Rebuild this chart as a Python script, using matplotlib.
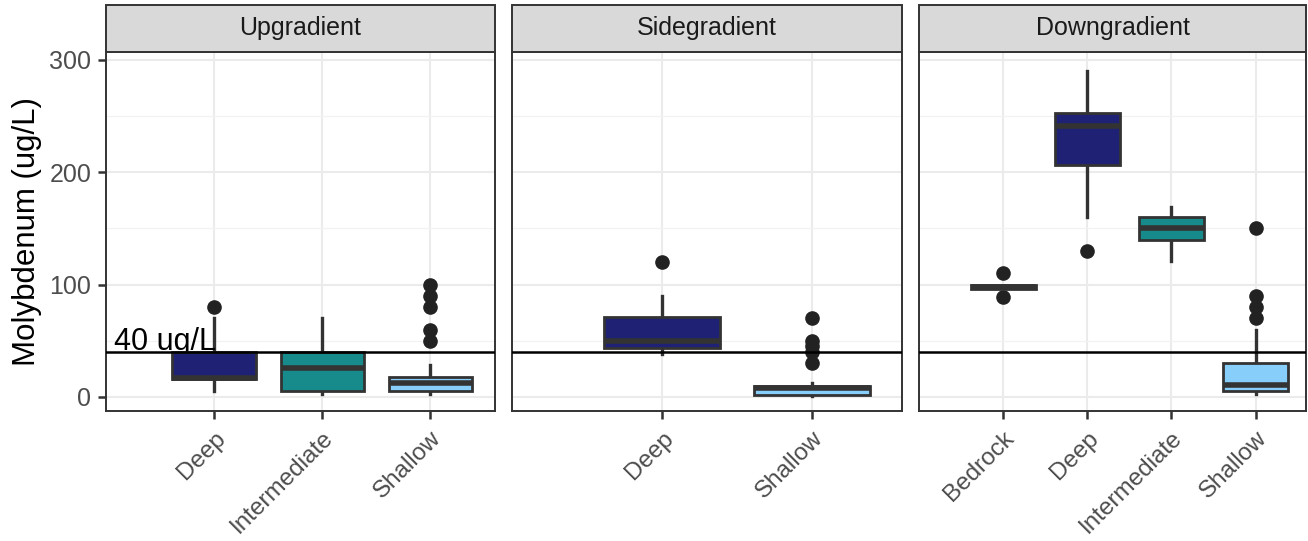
import matplotlib
matplotlib.use("Agg")
import matplotlib.pyplot as plt
from matplotlib.patches import Rectangle
import numpy as np

plt.rcParams['font.family'] = ['Liberation Sans', 'DejaVu Sans']

# ---------------- data ----------------
panels = ["Upgradient", "Sidegradient", "Downgradient"]

up_cats = ["Deep", "Intermediate", "Shallow"]
up_q1 = [16, 5, 5]
up_med = [16.5, 26, 12]
up_q3 = [40, 40, 18]
up_lo = [5, 3, 3]
up_hi = [70, 70, 28]
up_out = [[80], [], [50, 60, 80, 90, 100]]

side_cats = ["Deep", "Shallow"]
side_q1 = [44, 2]
side_med = [50, 8]
side_q3 = [71, 10]
side_lo = [38, 1]
side_hi = [90, 12]
side_out = [[120], [30, 40, 45, 50, 70]]

down_cats = ["Bedrock", "Deep", "Intermediate", "Shallow"]
down_q1 = [96, 206, 140, 5]
down_med = [98, 241, 150, 11]
down_q3 = [100, 253, 160, 30]
down_lo = [96, 160, 121, 3]
down_hi = [100, 290, 169, 60]
down_out = [[89, 110], [130], [], [70, 80, 90, 150]]

threshold = 40
threshold_label = "40 ug/L"
y_label = "Molybdenum (ug/L)"
y_ticks = [0, 100, 200, 300]
y_minor = [50, 150, 250]

fill_colors = {"Bedrock": "#2a2a2a", "Deep": "#1f2174",
               "Intermediate": "#178b8b", "Shallow": "#87cefa"}

panel_data = [
    (up_cats, up_q1, up_med, up_q3, up_lo, up_hi, up_out),
    (side_cats, side_q1, side_med, side_q3, side_lo, side_hi, side_out),
    (down_cats, down_q1, down_med, down_q3, down_lo, down_hi, down_out),
]

# ---------------- layout ----------------
W, H = 1308, 541
fig = plt.figure(figsize=(W / 100, H / 100), dpi=100)
fig.patch.set_facecolor("white")

panel_px = [(106, 495), (512, 902), (919, 1306)]
top_px, bot_px = 52, 411
strip_h_px = 47

edge = "#333333"
for i, (name, pdata) in enumerate(zip(panels, panel_data)):
    cats, q1, med, q3, lo, hi, out = pdata
    l, r = panel_px[i]
    ax = fig.add_axes([l / W, 1 - bot_px / H, (r - l) / W, (bot_px - top_px) / H])
    n = len(cats)
    pos = list(range(1, n + 1))

    stats = []
    for k in range(n):
        stats.append(dict(med=med[k], q1=q1[k], q3=q3[k], whislo=lo[k],
                          whishi=hi[k], fliers=np.array(out[k], dtype=float),
                          label=cats[k]))
    bp = ax.bxp(stats, positions=pos, widths=0.77, patch_artist=True,
                showcaps=False,
                boxprops=dict(edgecolor=edge, linewidth=2.0),
                medianprops=dict(color=edge, linewidth=4.0, solid_capstyle="butt"),
                whiskerprops=dict(color=edge, linewidth=2.4),
                flierprops=dict(marker="o", markerfacecolor="#222222",
                                markeredgecolor="#222222", markersize=9.5))
    for patch, c in zip(bp["boxes"], cats):
        patch.set_facecolor(fill_colors[c])
        patch.set_zorder(3)
    for m in bp["medians"]:
        m.set_zorder(3.5)

    ax.axhline(threshold, color="black", lw=1.8, zorder=4)
    if i == 0:
        ax.text(0.07, 41.5, threshold_label, fontsize=22, color="black",
                va="baseline", ha="left", zorder=2)

    ax.set_xlim(0, n + 0.6)
    ax.set_ylim(-12.5, 307)
    ax.set_yticks(y_ticks)
    ax.set_yticks(y_minor, minor=True)
    ax.set_xticks(pos)
    ax.set_xticklabels(cats, rotation=45, ha="right", va="top",
                       rotation_mode="anchor", fontsize=17.5, color="#4d4d4d")
    ax.grid(which="major", color="#ebebeb", lw=1.5, zorder=0)
    ax.grid(which="minor", axis="y", color="#f2f2f2", lw=0.9, zorder=0)
    ax.set_axisbelow(True)
    ax.tick_params(axis="x", which="major", length=5.5, width=1.8, color=edge, pad=6)
    ax.tick_params(axis="y", which="minor", length=0)
    if i == 0:
        ax.set_yticklabels([str(t) for t in y_ticks], fontsize=18, color="#4d4d4d")
        ax.tick_params(axis="y", which="major", length=5.5, width=1.8, color=edge, pad=5)
    else:
        ax.tick_params(axis="y", which="major", length=0, labelleft=False)
    for s in ax.spines.values():
        s.set_color(edge)
        s.set_linewidth(1.4)

    hs = strip_h_px / (bot_px - top_px)
    ax.add_patch(Rectangle((0, 1), 1, hs, transform=ax.transAxes, clip_on=False,
                           facecolor="#d9d9d9", edgecolor=edge, lw=1.4, zorder=5))
    ax.text(0.5, 1 + hs / 2, name, transform=ax.transAxes, ha="center",
            va="center", fontsize=18, color="#1a1a1a", zorder=6)

fig.text(27 / W, 1 - 232 / H, y_label, rotation=90, ha="center", va="center",
         fontsize=22.5, color="black")

fig.savefig("out.png", dpi=100, facecolor="white")
